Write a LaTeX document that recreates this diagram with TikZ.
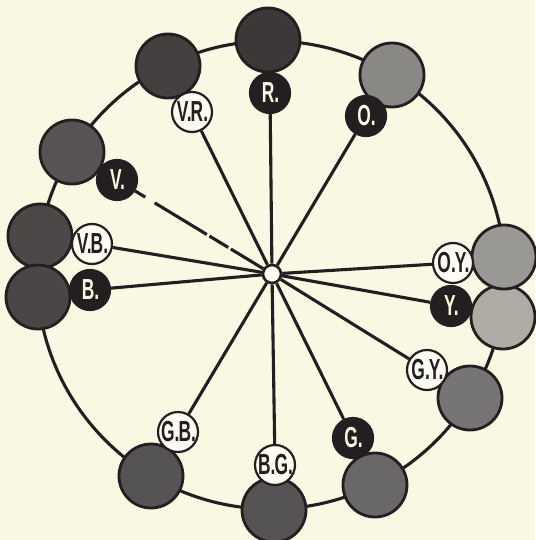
\documentclass[tikz,border=0pt]{standalone}
\usepackage{fontspec}
\newfontfamily\labfont{Liberation Sans}[UprightFont={* Bold}, FakeStretch=0.6]
\newcommand\pd{.\kern-0.9pt}
\definecolor{bg}{RGB}{250,247,226}
\definecolor{ink}{RGB}{35,30,32}
\definecolor{cR}{RGB}{60,56,56}
\definecolor{cVR}{RGB}{68,64,64}
\definecolor{cV}{RGB}{88,84,84}
\definecolor{cVB}{RGB}{76,72,72}
\definecolor{cB}{RGB}{74,70,70}
\definecolor{cGB}{RGB}{85,83,83}
\definecolor{cBG}{RGB}{85,83,83}
\definecolor{cG}{RGB}{105,103,103}
\definecolor{cGY}{RGB}{118,116,116}
\definecolor{cY}{RGB}{174,172,164}
\definecolor{cOY}{RGB}{154,152,148}
\definecolor{cO}{RGB}{138,136,132}
\tikzset{
  big/.style={circle, draw=ink, line width=2.8pt, minimum size=64pt, inner sep=0pt},
  lab/.style={circle, line width=2.2pt, minimum size=40pt, inner sep=0pt,
    font=\labfont\fontsize{29}{29}\selectfont},
  darklab/.style={lab, draw=ink, fill=ink, text=bg},
  lightlab/.style={lab, draw=ink, fill=white!60!bg, text=ink},
  spoke/.style={draw=ink, line width=3.1pt},
}
\begin{document}
\begin{tikzpicture}[x=1pt,y=-1pt]
\fill[bg] (0,0) rectangle (535,540);
\useasboundingbox (0,0) rectangle (535,540);
% ring
\node[circle, draw=ink, line width=3.1pt, minimum size=468pt, inner sep=0pt] (ring) at (271,275) {};
% big colour circles
\node[big, fill=cR]  (bR)  at (268,40) {};
\node[big, fill=cVR] (bVR) at (168,66) {};
\node[big, fill=cV]  (bV)  at (72,152) {};
\node[big, fill=cVB] (bVB) at (40,236) {};
\node[big, fill=cB]  (bB)  at (38,297) {};
\node[big, fill=cGB] (bGB) at (151,476) {};
\node[big, fill=cBG] (bBG) at (274,510) {};
\node[big, fill=cG]  (bG)  at (375,485) {};
\node[big, fill=cGY] (bGY) at (470,398) {};
\node[big, fill=cY]  (bY)  at (503,317) {};
\node[big, fill=cOY] (bOY) at (504,257) {};
\node[big, fill=cO]  (bO)  at (392,75) {};
% hub and labels
\node[circle, draw=ink, fill=white!60!bg, line width=2.6pt, minimum size=18pt, inner sep=0pt] (hub) at (272,274) {};
\node[darklab]  (lR)  at (270,93)  {R\pd};
\node[lightlab] (lVR) at (192,112) {V\pd R\pd};
\node[darklab]  (lV)  at (117,180) {V\pd};
\node[lightlab] (lVB) at (92,244)  {V\pd B\pd};
\node[darklab]  (lB)  at (90,290)  {B\pd};
\node[lightlab] (lGB) at (178,432) {G\pd B\pd};
\node[lightlab] (lBG) at (275,465) {B\pd G\pd};
\node[darklab]  (lG)  at (353,438) {G\pd};
\node[lightlab] (lGY) at (427,370) {G\pd Y\pd};
\node[darklab]  (lY)  at (451,306) {Y\pd};
\node[lightlab] (lOY) at (453,263) {O\pd Y\pd};
\node[darklab]  (lO)  at (366,116) {O\pd};
% spokes
\foreach \l in {lR,lVR,lVB,lB,lGB,lBG,lG,lGY,lY,lOY,lO}
  \draw[spoke] (hub) -- (\l);
\draw[spoke, dash pattern=on 12pt off 11pt on 61pt off 3pt on 22pt off 3pt on 200pt] (lV) -- (hub);
\end{tikzpicture}
\end{document}
